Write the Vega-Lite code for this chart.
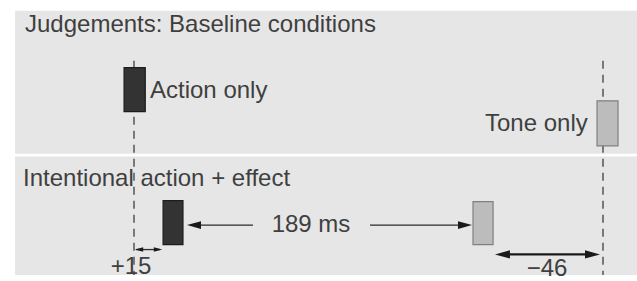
{
  "$schema": "https://vega.github.io/schema/vega-lite/v6.json",
  "width": 637,
  "height": 281,
  "autosize": {"type": "fit", "contains": "padding"},
  "padding": 0,
  "background": "white",
  "config": {"view": {"stroke": null}},
  "datasets": {
    "panels": [
      {"panel": "Baseline", "t": -63.4, "t2": 268.12, "y": 11, "y2": 157},
      {"panel": "Operant", "t": -63.4, "t2": 268.12, "y": 160, "y2": 281}
    ],
    "onsets": [
      {"event": "action", "t": 0, "y": 62, "y2": 281},
      {"event": "tone", "t": 250, "y": 62, "y2": 281}
    ],
    "bars": [
      {"condition": "Baseline", "event": "action", "t": -5.3, "t2": 6.0, "y": 69, "y2": 114},
      {"condition": "Baseline", "event": "tone", "t": 246.8, "t2": 258.0, "y": 103, "y2": 149},
      {"condition": "Operant", "event": "action", "t": 15.5, "t2": 26.1, "y": 205, "y2": 250},
      {"condition": "Operant", "event": "tone", "t": 180.7, "t2": 191.4, "y": 206, "y2": 250}
    ],
    "lines": [
      {"group": "interval", "t": 30, "t2": 63.4, "y": 230},
      {"group": "interval", "t": 125.8, "t2": 176.4, "y": 230},
      {"group": "small", "t": 1.07, "t2": 13.86, "y": 255},
      {"group": "shift", "t": 195.1, "t2": 245.7, "y": 260}
    ],
    "heads": [
      {"group": "interval", "dir": "left", "t": 31.98, "y": 230},
      {"group": "interval", "dir": "right", "t": 176.44, "y": 230},
      {"group": "small", "dir": "left", "t": 2.67, "y": 255},
      {"group": "small", "dir": "right", "t": 12.79, "y": 255},
      {"group": "shift", "dir": "left", "t": 196.4, "y": 260},
      {"group": "shift", "dir": "right", "t": 244.4, "y": 260}
    ],
    "labelsLeft": [
      {"label": "Judgements: Baseline conditions", "t": -58.1, "y": 33},
      {"label": "Intentional action + effect", "t": -59.17, "y": 190},
      {"label": "Action only", "t": 8.53, "y": 100},
      {"label": "Tone only", "t": 187.1, "y": 134}
    ],
    "labelsCenter": [
      {"label": "189 ms", "t": 94.35, "y": 237},
      {"label": "+15", "t": -1.6, "y": 280},
      {"label": "−46", "t": 220.15, "y": 282}
    ]
  },
  "layer": [
    {
      "data": {"name": "panels"},
      "mark": {"type": "rect", "color": "#e6e6e6"},
      "encoding": {
        "x": {"field": "t", "type": "quantitative", "scale": {"domain": [-71.43, 268.12], "nice": false, "zero": false}, "axis": null},
        "x2": {"field": "t2"},
        "y": {"field": "y", "type": "quantitative", "scale": {"domain": [0, 281], "nice": false, "zero": false, "reverse": true}, "axis": null},
        "y2": {"field": "y2"}
      }
    },
    {
      "data": {"name": "onsets"},
      "mark": {"type": "rule", "color": "#555555", "strokeWidth": 1.5, "strokeDash": [8, 6]},
      "encoding": {
        "x": {"field": "t", "type": "quantitative", "scale": {"domain": [-71.43, 268.12], "nice": false, "zero": false}, "axis": null},
        "y": {"field": "y", "type": "quantitative", "scale": {"domain": [0, 281], "nice": false, "zero": false, "reverse": true}, "axis": null},
        "y2": {"field": "y2"}
      }
    },
    {
      "data": {"name": "bars"},
      "mark": {"type": "rect", "strokeWidth": 1.2},
      "encoding": {
        "x": {"field": "t", "type": "quantitative", "scale": {"domain": [-71.43, 268.12], "nice": false, "zero": false}, "axis": null},
        "x2": {"field": "t2"},
        "y": {"field": "y", "type": "quantitative", "scale": {"domain": [0, 281], "nice": false, "zero": false, "reverse": true}, "axis": null},
        "y2": {"field": "y2"},
        "fill": {"field": "event", "type": "nominal", "scale": {"domain": ["action", "tone"], "range": ["#333333", "#bcbcbc"]}, "legend": null},
        "stroke": {"field": "event", "type": "nominal", "scale": {"domain": ["action", "tone"], "range": ["#1c1c1c", "#808080"]}, "legend": null}
      }
    },
    {
      "data": {"name": "lines"},
      "transform": [{"filter": "datum.group !== 'shift'"}],
      "mark": {"type": "rule", "color": "#2a2a2a", "strokeWidth": 1.3},
      "encoding": {
        "x": {"field": "t", "type": "quantitative", "scale": {"domain": [-71.43, 268.12], "nice": false, "zero": false}, "axis": null},
        "x2": {"field": "t2"},
        "y": {"field": "y", "type": "quantitative", "scale": {"domain": [0, 281], "nice": false, "zero": false, "reverse": true}, "axis": null}
      }
    },
    {
      "data": {"name": "lines"},
      "transform": [{"filter": "datum.group === 'shift'"}],
      "mark": {"type": "rule", "color": "#1a1a1a", "strokeWidth": 2.2},
      "encoding": {
        "x": {"field": "t", "type": "quantitative", "scale": {"domain": [-71.43, 268.12], "nice": false, "zero": false}, "axis": null},
        "x2": {"field": "t2"},
        "y": {"field": "y", "type": "quantitative", "scale": {"domain": [0, 281], "nice": false, "zero": false, "reverse": true}, "axis": null}
      }
    },
    {
      "data": {"name": "heads"},
      "transform": [{"filter": "datum.group === 'interval'"}],
      "mark": {"type": "point", "filled": true, "color": "#1a1a1a", "opacity": 1, "size": 196, "strokeWidth": 0},
      "encoding": {
        "x": {"field": "t", "type": "quantitative", "scale": {"domain": [-71.43, 268.12], "nice": false, "zero": false}, "axis": null},
        "y": {"field": "y", "type": "quantitative", "scale": {"domain": [0, 281], "nice": false, "zero": false, "reverse": true}, "axis": null},
        "shape": {"field": "dir", "type": "nominal", "scale": {"domain": ["left", "right"], "range": ["M-1,0L1,-0.55L1,0.55Z", "M1,0L-1,-0.55L-1,0.55Z"]}, "legend": null}
      }
    },
    {
      "data": {"name": "heads"},
      "transform": [{"filter": "datum.group === 'small'"}],
      "mark": {"type": "point", "filled": true, "color": "#1a1a1a", "opacity": 1, "size": 70, "strokeWidth": 0},
      "encoding": {
        "x": {"field": "t", "type": "quantitative", "scale": {"domain": [-71.43, 268.12], "nice": false, "zero": false}, "axis": null},
        "y": {"field": "y", "type": "quantitative", "scale": {"domain": [0, 281], "nice": false, "zero": false, "reverse": true}, "axis": null},
        "shape": {"field": "dir", "type": "nominal", "scale": {"domain": ["left", "right"], "range": ["M-1,0L1,-0.6L1,0.6Z", "M1,0L-1,-0.6L-1,0.6Z"]}, "legend": null}
      }
    },
    {
      "data": {"name": "heads"},
      "transform": [{"filter": "datum.group === 'shift'"}],
      "mark": {"type": "point", "filled": true, "color": "#1a1a1a", "opacity": 1, "size": 225, "strokeWidth": 0},
      "encoding": {
        "x": {"field": "t", "type": "quantitative", "scale": {"domain": [-71.43, 268.12], "nice": false, "zero": false}, "axis": null},
        "y": {"field": "y", "type": "quantitative", "scale": {"domain": [0, 281], "nice": false, "zero": false, "reverse": true}, "axis": null},
        "shape": {"field": "dir", "type": "nominal", "scale": {"domain": ["left", "right"], "range": ["M-1,0L1,-0.55L1,0.55Z", "M1,0L-1,-0.55L-1,0.55Z"]}, "legend": null}
      }
    },
    {
      "data": {"name": "labelsLeft"},
      "mark": {"type": "text", "align": "left", "baseline": "alphabetic", "font": "Liberation Sans", "fontSize": 24, "color": "#3f3f3f"},
      "encoding": {
        "x": {"field": "t", "type": "quantitative", "scale": {"domain": [-71.43, 268.12], "nice": false, "zero": false}, "axis": null},
        "y": {"field": "y", "type": "quantitative", "scale": {"domain": [0, 281], "nice": false, "zero": false, "reverse": true}, "axis": null},
        "text": {"field": "label"}
      }
    },
    {
      "data": {"name": "labelsCenter"},
      "mark": {"type": "text", "align": "center", "baseline": "alphabetic", "font": "Liberation Sans", "fontSize": 24, "color": "#3f3f3f"},
      "encoding": {
        "x": {"field": "t", "type": "quantitative", "scale": {"domain": [-71.43, 268.12], "nice": false, "zero": false}, "axis": null},
        "y": {"field": "y", "type": "quantitative", "scale": {"domain": [0, 281], "nice": false, "zero": false, "reverse": true}, "axis": null},
        "text": {"field": "label"}
      }
    }
  ]
}
